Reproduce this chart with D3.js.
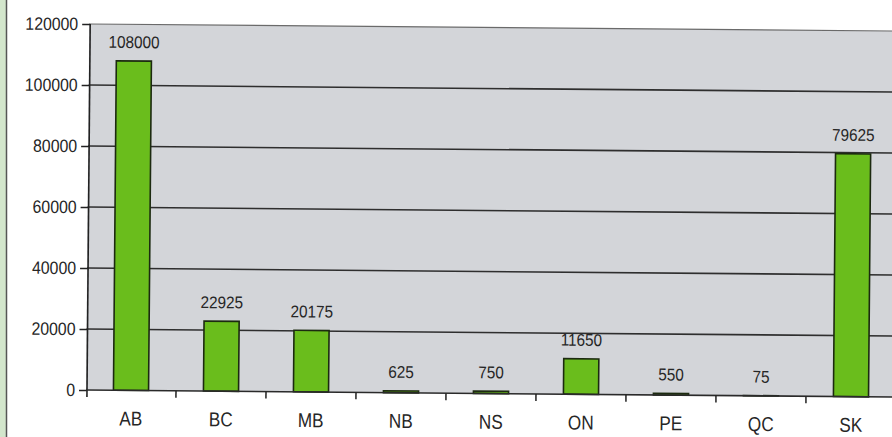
<!DOCTYPE html>
<html>
<head>
<meta charset="utf-8">
<script src="https://cdn.jsdelivr.net/npm/d3@7"></script>
<style>
  html, body { margin: 0; padding: 0; background: #fff; }
  svg { display: block; }
  text { font-family: "Liberation Sans", Arial, sans-serif; fill: #262626; }
</style>
</head>
<body>
<svg id="chart" width="892" height="437"></svg>
<script>
const categories = ["AB", "BC", "MB", "NB", "NS", "ON", "PE", "QC", "SK"];
const values = [108000, 22925, 20175, 625, 750, 11650, 550, 75, 79625];
const yTicks = [0, 20000, 40000, 60000, 80000, 100000, 120000];

(function () {
const svg = d3.select("#chart");
const W = 892, H = 437;
const mLeft = 86, mRight = 896, mTop = 24, mBottom = 390;
const FONT = '"Liberation Sans", Arial, sans-serif';

// horizontally condense text (the original uses a narrow face)
function condense(sel, sx) {
  sel.each(function () {
    const t = d3.select(this);
    const x0 = +t.attr("x") || 0;
    t.attr("x", x0 / sx).attr("transform", `scale(${sx},1)`);
  });
}

// left border strip (scan frame)
svg.append("rect").attr("x", 0).attr("y", 0).attr("width", 6).attr("height", H).attr("fill", "#d3e6cc");
svg.append("line").attr("x1", 6.5).attr("x2", 6.5).attr("y1", 0).attr("y2", H)
  .attr("stroke", "#555").attr("stroke-width", 1.5);

const g = svg.append("g").attr("transform", `rotate(0.5, ${mLeft}, ${mBottom})`);

const y = d3.scaleLinear().domain([0, 120000]).range([mBottom, mTop]);
const xCell = d3.scaleBand().domain(categories).range([mLeft, mRight]);
const x = d3.scaleBand().domain(categories).range([mLeft, mRight])
  .paddingInner(0.61).paddingOuter(0.305);

// plot background
g.append("rect").attr("x", mLeft).attr("y", y(120000))
  .attr("width", mRight - mLeft + 20).attr("height", y(0) - y(120000))
  .attr("fill", "#d3d5d9");

// gridlines
g.append("g").selectAll("line").data(yTicks.filter(d => d > 0)).join("line")
  .attr("x1", mLeft).attr("x2", mRight + 20)
  .attr("y1", d => y(d)).attr("y2", d => y(d))
  .attr("stroke", d => d === 120000 ? "#6a6a6a" : "#2e2e2e")
  .attr("stroke-width", d => d === 120000 ? 1.2 : 1.6);

// y axis
const yAxis = d3.axisLeft(y).tickValues(yTicks).tickSize(8).tickPadding(4).tickFormat(d3.format("d"));
const ya = g.append("g").attr("transform", `translate(${mLeft + 1},0)`).call(yAxis);
ya.select(".domain").remove();
ya.selectAll(".tick line").attr("stroke", "#222").attr("stroke-width", 1.5);
ya.selectAll(".tick text").attr("font-size", 18).attr("fill", "#262626").attr("font-family", FONT)
  .call(condense, 0.88);
g.append("line").attr("x1", mLeft + 1).attr("x2", mLeft + 1).attr("y1", y(120000)).attr("y2", y(0) + 7)
  .attr("stroke", "#222").attr("stroke-width", 1.6);

// bars
g.append("g").selectAll("rect").data(categories).join("rect")
  .attr("x", d => x(d))
  .attr("y", (d, i) => y(values[i]))
  .attr("width", x.bandwidth())
  .attr("height", (d, i) => y(0) - y(values[i]))
  .attr("fill", "#6abd1c")
  .attr("stroke", "#1c2a10")
  .attr("stroke-width", 1.6);

// baseline
g.append("line").attr("x1", mLeft).attr("x2", mRight + 20).attr("y1", y(0)).attr("y2", y(0))
  .attr("stroke", "#2a2a2a").attr("stroke-width", 1.6);

// category boundary ticks
g.append("g").selectAll("line").data(categories.slice(1)).join("line")
  .attr("x1", d => xCell(d)).attr("x2", d => xCell(d))
  .attr("y1", y(0)).attr("y2", y(0) + 7)
  .attr("stroke", "#222").attr("stroke-width", 1.5);

// category labels
const xa = g.append("g").attr("transform", `translate(0,${y(0)})`)
  .call(d3.axisBottom(xCell).tickSize(0).tickPadding(21));
xa.select(".domain").remove();
xa.selectAll(".tick text").attr("font-size", 20).attr("fill", "#262626").attr("font-family", FONT)
  .call(condense, 0.86);

// value labels
g.append("g").selectAll("g").data(categories).join("g")
  .attr("transform", (d, i) => `translate(${x(d) + x.bandwidth() / 2},${y(values[i]) - 13})`)
  .append("text")
  .attr("text-anchor", "middle")
  .attr("font-size", 17)
  .attr("font-family", FONT)
  .text((d, i) => values[i])
  .call(condense, 0.9);
})();
</script>
</body>
</html>
